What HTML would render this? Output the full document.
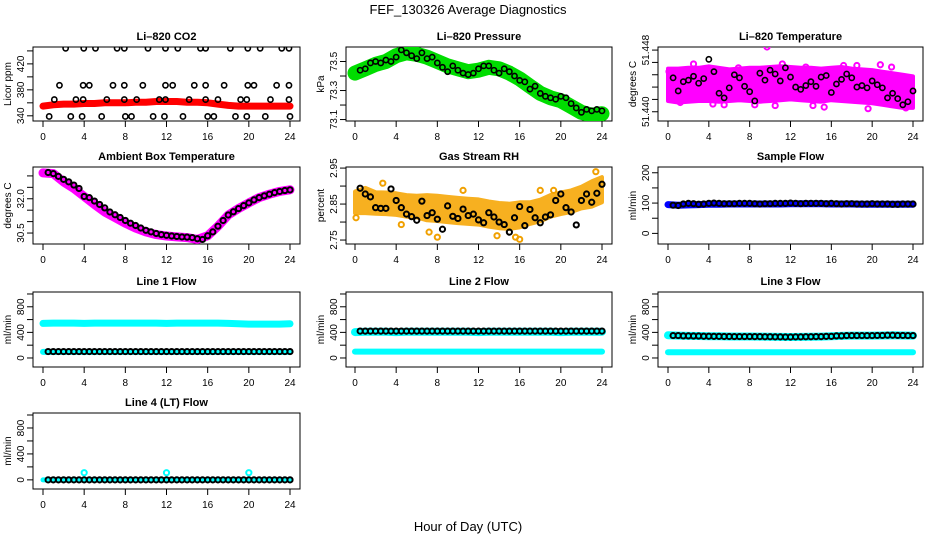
<!DOCTYPE html>
<html><head><meta charset="utf-8">
<style>
html,body{margin:0;padding:0;background:#fff;}
svg{display:block;font-family:"Liberation Sans",sans-serif;}
</style></head>
<body>
<svg id="chart" width="936" height="540" viewBox="0 0 936 540" xmlns="http://www.w3.org/2000/svg">
<rect width="936" height="540" fill="#fff"/>
<text x="468" y="14" text-anchor="middle" font-size="13">FEF_130326  Average Diagnostics</text>
<text x="468" y="531" text-anchor="middle" font-size="13">Hour of Day (UTC)</text>
</svg>
<script>
// ---- data ----
const xTicks = [0,4,8,12,16,20,24];
const hours = [0,1,2,3,4,5,6,7,8,9,10,11,12,13,14,15,16,17,18,19,20,21,22,23,24];
const halfHours = [0.5,1,1.5,2,2.5,3,3.5,4,4.5,5,5.5,6,6.5,7,7.5,8,8.5,9,9.5,10,10.5,11,11.5,12,12.5,13,13.5,14,14.5,15,15.5,16,16.5,17,17.5,18,18.5,19,19.5,20,20.5,21,21.5,22,22.5,23,23.5,24];

// CO2
const co2X445 = [2.2,3.96,5.1,7.2,7.9,10.2,11.9,13.1,15.3,15.8,18.2,19.9,21.1,23.2,23.9];
const co2X387 = [1.6,3.9,4.5,6.8,7.9,9.7,11.9,12.6,14.7,15.8,17.6,19.9,20.5,22.7,23.9];
const co2X365 = [1.1,3.2,3.9,6.2,7.9,9.1,11.3,11.9,14.2,15.8,17.0,19.2,19.8,22.1,23.9];
const co2X340 = [0.6,2.7,3.8,5.7,8.0,8.6,10.7,11.8,13.6,16.0,16.6,18.7,19.8,21.6,24.0];
const co2Band = [355,357,358,358,359,359,360,360,360,361,361,362,362,362,361,361,360,358,356,355,355,355,355,355,355];

// Pressure
const presBand = [73.42,73.45,73.48,73.50,73.54,73.56,73.55,73.53,73.50,73.47,73.45,73.43,73.44,73.46,73.45,73.42,73.38,73.33,73.28,73.25,73.23,73.19,73.15,73.13,73.14];
const presPts = [73.44,73.45,73.49,73.50,73.49,73.51,73.50,73.53,73.58,73.56,73.54,73.52,73.56,73.52,73.53,73.49,73.46,73.43,73.47,73.44,73.42,73.41,73.42,73.45,73.47,73.47,73.44,73.42,73.45,73.43,73.40,73.37,73.36,73.31,73.33,73.28,73.26,73.25,73.24,73.26,73.25,73.21,73.18,73.15,73.17,73.16,73.17,73.16];

// Li-820 temperature
const tempHi = [51.4456,51.4456,51.4457,51.4457,51.4459,51.4457,51.4455,51.4456,51.4457,51.4457,51.4458,51.4459,51.4458,51.4457,51.4457,51.4456,51.4457,51.4458,51.4456,51.4455,51.4454,51.4452,51.4450,51.4448,51.4446];
const tempLo = [51.4414,51.4412,51.4413,51.4414,51.4414,51.4413,51.4414,51.4415,51.4414,51.4413,51.4414,51.4415,51.4416,51.4415,51.4414,51.4413,51.4415,51.4414,51.4413,51.4412,51.4411,51.4409,51.4407,51.4405,51.4405];
const tempPts = [51.4444,51.4427,51.4439,51.4441,51.4446,51.4437,51.4443,51.4468,51.4452,51.4424,51.4418,51.4431,51.4448,51.4444,51.4433,51.4426,51.4414,51.4450,51.4441,51.4454,51.4449,51.4440,51.4457,51.4445,51.4432,51.4429,51.4434,51.4439,51.4433,51.4445,51.4447,51.4425,51.4436,51.4442,51.4449,51.4444,51.4432,51.4434,51.4431,51.4440,51.4435,51.4431,51.4418,51.4424,51.4417,51.4409,51.4413,51.4427];
const tempOutX = [0.1,1.2,3.7,4.4,6.9,8.5,10.5,13.5,15.3,17.2,19.6,21.9,23.3,9.7,18.5,2.5,5.5,11.2,14.2,20.8];
const tempOutY = [51.4452,51.4412,51.4455,51.4410,51.4457,51.4409,51.4408,51.4458,51.4406,51.4460,51.4404,51.4458,51.4405,51.4484,51.4460,51.4462,51.4409,51.4462,51.4408,51.4461];

// Ambient box temperature
const ambPts = [33.15,33.1,32.98,32.85,32.74,32.6,32.45,32.1,32.05,31.9,31.75,31.6,31.42,31.3,31.18,31.05,30.93,30.83,30.72,30.62,30.55,30.48,30.43,30.4,30.37,30.35,30.33,30.32,30.3,30.25,30.22,30.38,30.55,30.8,31.05,31.29,31.43,31.57,31.7,31.82,31.95,32.05,32.13,32.2,32.27,32.32,32.36,32.39];
const ambBand = [33.13,33.1,32.74,32.45,32.1,31.75,31.42,31.18,30.93,30.72,30.55,30.43,30.37,30.33,30.3,30.22,30.38,30.8,31.29,31.57,31.82,32.05,32.2,32.32,32.39];

// Gas stream RH
const rhCenter = [2.855,2.86,2.853,2.852,2.85,2.845,2.843,2.84,2.838,2.835,2.832,2.83,2.828,2.822,2.818,2.816,2.82,2.825,2.832,2.845,2.852,2.858,2.868,2.878,2.89];
const rhHalf = [0.03,0.035,0.03,0.03,0.03,0.03,0.03,0.035,0.035,0.035,0.035,0.035,0.035,0.035,0.035,0.035,0.035,0.03,0.03,0.03,0.03,0.03,0.03,0.035,0.035];
const rhPts = [2.894,2.878,2.870,2.840,2.838,2.838,2.892,2.860,2.840,2.822,2.815,2.805,2.858,2.818,2.826,2.808,2.780,2.845,2.816,2.810,2.836,2.818,2.822,2.806,2.798,2.826,2.814,2.800,2.793,2.772,2.812,2.843,2.790,2.835,2.812,2.798,2.814,2.820,2.860,2.878,2.840,2.828,2.792,2.860,2.878,2.855,2.880,2.905];
const rhOutX = [0.1,4.5,7.2,8.0,10.5,13.8,15.6,16.0,18.0,23.4,2.7,19.3];
const rhOutY = [2.812,2.793,2.772,2.758,2.888,2.762,2.758,2.752,2.888,2.940,2.908,2.888];

// Flows
const sampleBand = [95,93,94,95,96,96,97,97,97,97,97,97,98,98,98,98,97,97,97,96,96,96,96,96,96];
const samplePts = [93,92,97,99,98,96,97,99,100,99,98,98,98,99,99,99,98,97,98,98,99,99,99,100,99,98,99,99,99,99,98,99,98,97,98,98,97,97,97,98,97,97,97,96,96,97,97,97];
const line1Cyan = [540,545,545,545,540,545,545,545,545,545,545,545,540,545,545,545,545,545,540,535,530,530,530,530,535];
const line1Black = 100;
const line1Low = 95;
const line2Black = 420;
const line2Cyan = [405,410,410,410,405,410,410,410,410,410,410,410,405,410,410,410,410,410,410,410,405,410,410,410,410];
const line2Low = 100;
const line3Black = [355,350,345,343,340,338,336,335,335,334,332,330,328,330,332,334,338,345,350,350,350,352,355,352,350];
const line3Low = 90;
const line4Black = 0;
const line4SpikeX = [4,12,20];
const line4SpikeY = [110,110,110];

// ---- drawing ----
const NS = "http://www.w3.org/2000/svg";
const svg = document.getElementById('chart');
function mk(tag, attrs, parent){
  const e = document.createElementNS(NS, tag);
  for (const k in attrs) e.setAttribute(k, attrs[k]);
  (parent||svg).appendChild(e);
  return e;
}
const cols = [{l:33,r:300,x0:43,x1:290},{l:346,r:612,x0:355,x1:602},{l:658,r:923,x0:668,x1:913}];
const rows = [{t:47,b:121},{t:167,b:244},{t:292,b:367},{t:413,b:489}];

function panel(name, title, ylab, c, r, ymin, ymax, yticks, ylabels){
  const C = cols[c], R = rows[r];
  const g = mk('g', {});
  
  
  const sx = v => C.x0 + (v/24)*(C.x1-C.x0);
  const sy = v => R.b - (v-ymin)/(ymax-ymin)*(R.b-R.t);
  const t = mk('text', {x:(C.l+C.r)/2, y:R.t-7, 'text-anchor':'middle', 'font-size':11, 'font-weight':'bold'}, g);
  t.textContent = title;
  
  
  const yl = mk('text', {x:0,y:0,'text-anchor':'middle','font-size':10,transform:`translate(${C.l-22},${(R.t+R.b)/2}) rotate(-90)`}, g);
  yl.textContent = ylab;
  
  
  const xa = mk('g', {}, g);
  
  
  mk('line', {x1:sx(0),x2:sx(24),y1:R.b,y2:R.b,stroke:'#000'}, xa);
  xTicks.forEach(v=>{
    mk('line', {x1:sx(v),x2:sx(v),y1:R.b,y2:R.b+6,stroke:'#000'}, xa);
    const tl = mk('text', {x:sx(v),y:R.b+19,'text-anchor':'middle','font-size':10}, xa);
    tl.textContent = v;
  });
  const ya = mk('g', {}, g);
  
  
  mk('line', {x1:C.l,x2:C.l,y1:sy(yticks[0]),y2:sy(yticks[yticks.length-1]),stroke:'#000'}, ya);
  yticks.forEach(v=>{
    mk('line', {x1:C.l-6,x2:C.l,y1:sy(v),y2:sy(v),stroke:'#000'}, ya);
  });
  ylabels.forEach(v=>{
    const tl = mk('text', {x:0,y:0,'text-anchor':'middle','font-size':10,transform:`translate(${C.l-9},${sy(v)}) rotate(-90)`}, ya);
    tl.textContent = v;
  });
  mk('rect', {x:C.l,y:R.t,width:C.r-C.l,height:R.b-R.t,fill:'none',stroke:'#000'}, g);
  const clip = 'clip'+name;
  const cp = mk('clipPath', {id:clip}, g);
  mk('rect', {x:C.l,y:R.t,width:C.r-C.l,height:R.b-R.t}, cp);
  const plot = mk('g', {'clip-path':`url(#${clip})`}, g);
  return {g:plot, sx, sy};
}
function band(P, xs, ys, color, w, nm){
  const d = xs.map((x,i)=>(i?'L':'M')+P.sx(x).toFixed(1)+','+P.sy(ys[i]).toFixed(1)).join(' ');
  const p = mk('path', {d, fill:'none', stroke:color, 'stroke-width':w, 'stroke-linejoin':'round','stroke-linecap':'round'}, P.g);
  
  
}
function area(P, xs, hi, lo, color, nm){
  let d = xs.map((x,i)=>(i?'L':'M')+P.sx(x).toFixed(1)+','+P.sy(hi[i]).toFixed(1)).join(' ');
  for (let i=xs.length-1;i>=0;i--) d += ' L'+P.sx(xs[i]).toFixed(1)+','+P.sy(lo[i]).toFixed(1);
  const p = mk('path', {d:d+' Z', fill:color, stroke:color, 'stroke-width':4, 'stroke-linejoin':'round'}, P.g);
  
  
}
function pts(P, xs, ys, color, nm, sw){
  const gg = mk('g', {}, P.g);
  
  
  xs.forEach((x,i)=>{
    const y = Array.isArray(ys) ? ys[i] : ys;
    mk('circle', {cx:P.sx(x), cy:P.sy(y), r:2.6, fill:'none', stroke:color, 'stroke-width':sw||1.6}, gg);
  });
}
const flowTicks = [0,200,400,600,800,1000], flowLabels = [0,400,800];

// Li-820 CO2
let P = panel('co2-panel','Li\u2013820 CO2','Licor ppm',0,0,332,446,[340,360,380,400,420,440],[340,380,420]);
band(P, hours, co2Band, '#ff0000', 7, 'co2-red-series');
pts(P, co2X445, 444, '#000', 'co2-points-445');
pts(P, co2X387, 387, '#000', 'co2-points-387');
pts(P, co2X365, 365, '#000', 'co2-points-365');
pts(P, co2X340, 339, '#000', 'co2-points-340');

// Pressure
P = panel('pressure-panel','Li\u2013820 Pressure','kPa',1,0,73.09,73.60,[73.1,73.2,73.3,73.4,73.5],['73.1','73.3','73.5']);
band(P, hours, presBand, '#00dd00', 15, 'pressure-green-series');
pts(P, halfHours, presPts, '#000', 'pressure-points');

// Temperature
P = panel('temperature-panel','Li\u2013820 Temperature','degrees C',2,0,51.4388,51.4484,[51.440,51.4416,51.4432,51.4448,51.4464,51.448],['51.440','51.448']);
area(P, hours, tempHi, tempLo, '#ff00ff', 'temperature-magenta-series');
pts(P, tempOutX, tempOutY, '#ff00ff', 'temperature-magenta-outliers', 2);
pts(P, halfHours, tempPts, '#000', 'temperature-points');

// Ambient
P = panel('ambient-panel','Ambient Box Temperature','degrees C',0,1,30.02,33.39,[30.5,31.0,31.5,32.0,32.5,33.0],['30.5','32.0']);
band(P, hours, ambBand, '#ff00ff', 9, 'ambient-magenta-series');
pts(P, halfHours, ambPts, '#000', 'ambient-points', 2);

// RH
P = panel('rh-panel','Gas Stream RH','percent',1,1,2.739,2.953,[2.75,2.80,2.85,2.90,2.95],['2.75','2.85','2.95']);
area(P, hours, rhCenter.map((v,i)=>v+rhHalf[i]), rhCenter.map((v,i)=>v-rhHalf[i]), '#f7b020', 'rh-orange-series');
pts(P, rhOutX, rhOutY, '#f0a000', 'rh-orange-outliers', 2);
pts(P, halfHours, rhPts, '#000', 'rh-points', 2);

// Sample flow
P = panel('sample-flow-panel','Sample Flow','ml/min',2,1,-35,219,[0,50,100,150,200],[0,100,200]);
band(P, hours, sampleBand, '#0000ff', 7, 'sample-flow-blue-series');
pts(P, halfHours, samplePts, '#000', 'sample-flow-points', 2);

// Line 1
P = panel('line1-panel','Line 1 Flow','ml/min',0,2,-141,1031,flowTicks,flowLabels);
band(P, hours, line1Cyan, '#00ffff', 7, 'line1-cyan-high-series');
band(P, [0,24], [line1Low,line1Low], '#00ffff', 6, 'line1-cyan-low-series');
pts(P, halfHours, line1Black, '#000', 'line1-points', 2);

// Line 2
P = panel('line2-panel','Line 2 Flow','ml/min',1,2,-141,1031,flowTicks,flowLabels);
band(P, hours, line2Cyan, '#00ffff', 8, 'line2-cyan-high-series');
band(P, [0,24], [line2Low,line2Low], '#00ffff', 6, 'line2-cyan-low-series');
pts(P, halfHours, line2Black, '#000', 'line2-points', 2);

// Line 3
P = panel('line3-panel','Line 3 Flow','ml/min',2,2,-141,1031,flowTicks,flowLabels);
band(P, hours, line3Black, '#00ffff', 8, 'line3-cyan-high-series');
band(P, [0,24], [line3Low,line3Low], '#00ffff', 6, 'line3-cyan-low-series');
pts(P, hours.slice(1), line3Black.slice(1), '#000', 'line3-points', 2);
pts(P, halfHours.filter((x,i)=>i%2===0), halfHours.filter((x,i)=>i%2===0).map(x=>line3Black[Math.round(x)]), '#000', 'line3-points-half', 2);

// Line 4
P = panel('line4-panel','Line 4 (LT) Flow','ml/min',0,3,-141,1031,flowTicks,flowLabels);
band(P, [0,24], [line4Black,line4Black], '#00ffff', 5, 'line4-cyan-series');
pts(P, line4SpikeX, line4SpikeY, '#00ffff', 'line4-cyan-spikes', 2);
pts(P, halfHours, line4Black, '#000', 'line4-points', 2);
</script>
</body></html>
